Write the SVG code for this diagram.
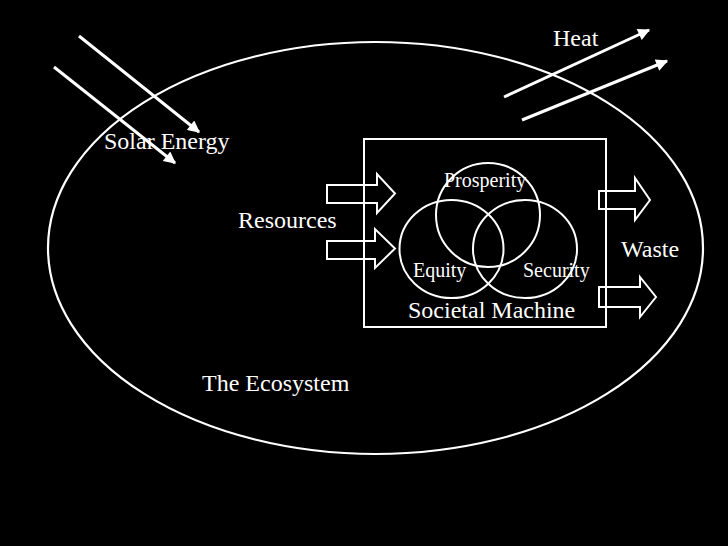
<svg xmlns="http://www.w3.org/2000/svg" width="728" height="546" viewBox="0 0 728 546">
<defs>
<style>
.ln{stroke:#fff;stroke-width:2.2;fill:none}
.ray{stroke:#fff;stroke-width:3;fill:none}
.blk{stroke:#fff;stroke-width:2;fill:none;stroke-linejoin:miter}
.t{font-family:"Liberation Serif","Times New Roman",serif;fill:#fff;font-size:24px}
.s{font-family:"Liberation Serif","Times New Roman",serif;fill:#fff;font-size:20px}
</style>
<marker id="ah" viewBox="0 0 10 10" refX="9" refY="5" markerWidth="5" markerHeight="4" orient="auto" markerUnits="strokeWidth">
<path d="M0,0 L10,5 L0,10 Z" fill="#fff"/>
</marker>
</defs>
<rect width="728" height="546" fill="#000"/>
<g id="ecosystem">
<ellipse class="ln" cx="375.5" cy="248" rx="327.5" ry="206"/>
<text class="t" x="202" y="391">The Ecosystem</text>
</g>
<g id="societal-machine">
<rect class="blk" x="364" y="139" width="242" height="188"/>
<text class="t" x="408" y="318">Societal Machine</text>
</g>
<g id="prosperity">
<ellipse class="blk" cx="488" cy="215" rx="52" ry="52"/>
<text class="s" x="444" y="187">Prosperity</text>
</g>
<g id="equity">
<ellipse class="blk" cx="451.5" cy="249" rx="52" ry="49"/>
<text class="s" x="413" y="277">Equity</text>
</g>
<g id="security">
<ellipse class="blk" cx="525" cy="249" rx="52" ry="49"/>
<text class="s" x="523" y="277">Security</text>
</g>
<g id="solar-energy">
<text class="t" x="104" y="149">Solar Energy</text>
</g>
<g id="heat">
<text class="t" x="553" y="46">Heat</text>
</g>
<g id="resources">
<text class="t" x="238" y="228">Resources</text>
</g>
<g id="waste">
<text class="t" x="621" y="257">Waste</text>
</g>
<g id="connectors">
<line class="ray" x1="79" y1="36" x2="199" y2="132" marker-end="url(#ah)"/>
<line class="ray" x1="54" y1="67" x2="175" y2="163" marker-end="url(#ah)"/>
<line class="ray" x1="504" y1="97" x2="649" y2="30" marker-end="url(#ah)"/>
<line class="ray" x1="522" y1="120" x2="667" y2="61" marker-end="url(#ah)"/>
<path class="blk" d="M327,185 H377 V174 L395,193.5 L377,213 V203 H327 Z"/>
<path class="blk" d="M327,241 H375 V229 L395,248.5 L375,268 V259 H327 Z"/>
<path class="blk" d="M599,191 H635 V178 L650,200 L635,220 V209 H599 Z"/>
<path class="blk" d="M599,287 H640 V277 L656,297 L640,317 V307 H599 Z"/>
</g>
</svg>
